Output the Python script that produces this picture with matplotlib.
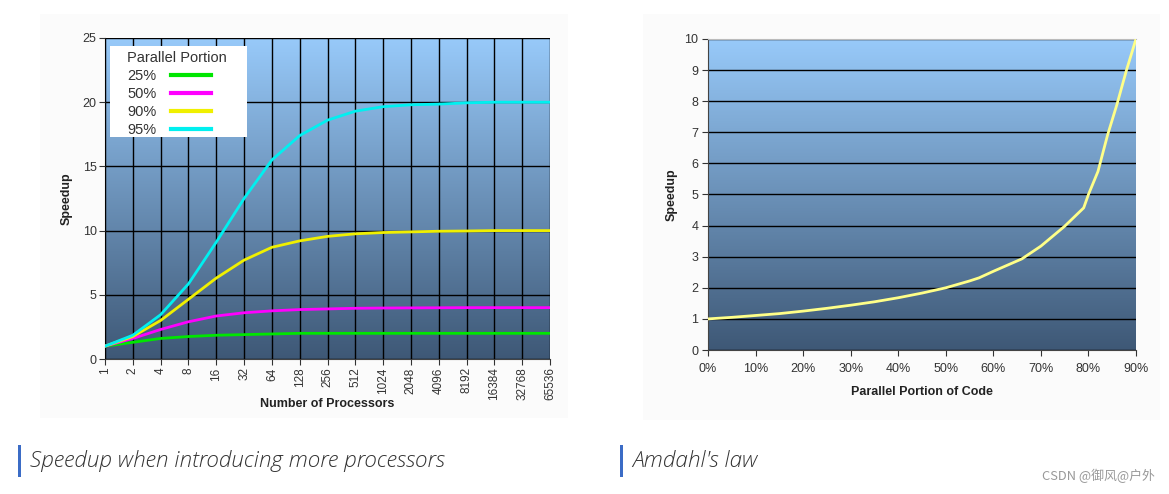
import numpy as np
import matplotlib.pyplot as plt
from matplotlib.patches import Rectangle

# left chart: speedup vs number of processors
processors = ["1", "2", "4", "8", "16", "32", "64", "128", "256", "512", "1024",
              "2048", "4096", "8192", "16384", "32768", "65536"]
sp_25 = [1.0, 1.3, 1.6, 1.75, 1.85, 1.9, 1.95, 2.0, 2.0, 2.0, 2.0, 2.0, 2.0, 2.0, 2.0, 2.0, 2.0]
sp_50 = [1.0, 1.6, 2.3, 2.9, 3.35, 3.6, 3.75, 3.85, 3.9, 3.95, 3.97, 3.98, 3.99, 4.0, 4.0, 4.0, 4.0]
sp_90 = [1.0, 1.75, 3.0, 4.65, 6.3, 7.7, 8.7, 9.2, 9.55, 9.75, 9.85, 9.9, 9.95, 9.97, 10.0, 10.0, 10.0]
sp_95 = [1.0, 1.85, 3.45, 5.85, 9.1, 12.5, 15.5, 17.4, 18.6, 19.3, 19.65, 19.8, 19.85, 19.95, 20.0, 20.0, 20.0]
series_labels = ["25%", "50%", "90%", "95%"]
series_colors = ["#00e600", "#ff00ff", "#f0f000", "#00f0f0"]

# right chart: Amdahl's law
portion = [0, 5, 10, 15, 20, 25, 30, 35, 40, 45, 50, 55, 57, 60, 66, 70, 75, 79, 80, 82, 84, 86, 88, 90]
amdahl = [1.0, 1.05, 1.11, 1.17, 1.25, 1.34, 1.44, 1.55, 1.68, 1.83, 2.0, 2.22, 2.32, 2.53,
          2.93, 3.34, 3.98, 4.57, 5.0, 5.74, 6.9, 7.9, 9.0, 10.0]

W, H = 1169, 494
fig = plt.figure(figsize=(W / 100, H / 100), dpi=100)
fig.patch.set_facecolor("white")

tick_font = dict(family="Liberation Sans", color="#333333")


def fx(px):
    return px / W


def fy(py):
    return 1 - py / H


# faint panels behind the two pictures
for x0, y0, x1, y1 in [(40, 14, 568, 418), (643, 14, 1160, 420)]:
    fig.patches.append(Rectangle((fx(x0), fy(y1)), fx(x1) - fx(x0), fy(y0) - fy(y1),
                                 transform=fig.transFigure, facecolor="#fbfbfb",
                                 edgecolor="none", zorder=-5))

# blue gradient for the plot areas
top = np.array([152, 202, 250]) / 255
bot = np.array([62, 88, 118]) / 255
t = np.linspace(0, 1, 256)[:, None]
grad = (top * (1 - t) + bot * t)[:, None, :].repeat(2, axis=1)


def background(ax):
    ax.imshow(grad, extent=[0, 1, 0, 1], transform=ax.transAxes, aspect="auto", zorder=0)


# ---- left chart
ax1 = fig.add_axes([fx(105), fy(359), fx(550) - fx(105), fy(38) - fy(359)])
background(ax1)
xi = np.arange(len(processors))
for vals, lab, col in zip([sp_25, sp_50, sp_90, sp_95], series_labels, series_colors):
    ax1.plot(xi, vals, color=col, lw=2, label=lab, zorder=3)
ax1.set_xlim(0, len(processors) - 1)
ax1.set_ylim(0, 25)
ax1.set_xticks(xi)
ax1.set_xticklabels(processors, rotation=90, fontsize=8.5, **tick_font)
ax1.set_yticks([0, 5, 10, 15, 20, 25])
ax1.set_yticklabels(["0", "5", "10", "15", "20", "25"], fontsize=9, **tick_font)
ax1.grid(True, color="black", lw=1, zorder=1)
ax1.set_axisbelow(False)
for line in ax1.get_xgridlines() + ax1.get_ygridlines():
    line.set_zorder(1)
ax1.set_xlabel("Number of Processors", fontsize=9, fontweight="bold",
               family="Liberation Sans", color="#222222", labelpad=-2)
ax1.set_ylabel("Speedup", fontsize=9, fontweight="bold", family="Liberation Sans",
               color="#222222", labelpad=7)
ax1.tick_params(length=4, color="#333333", pad=2)
for s in ["top", "right"]:
    ax1.spines[s].set_visible(False)
for s in ["left", "bottom"]:
    ax1.spines[s].set_color("#444444")

# legend box (white, no border) with the legend placed on it
ax1.add_patch(Rectangle((fx(110), fy(137)), fx(247) - fx(110), fy(46) - fy(137),
                        transform=fig.transFigure, facecolor="white", edgecolor="none",
                        zorder=4, clip_on=False))
leg = ax1.legend(title="Parallel Portion", loc="upper left",
                 bbox_to_anchor=(fx(127), fy(51)), bbox_transform=fig.transFigure,
                 markerfirst=False, frameon=False, borderpad=0, borderaxespad=0,
                 prop=dict(family="Liberation Sans", size=10.5),
                 handlelength=2.75, handletextpad=1.0, labelspacing=0.27,
                 alignment="left")
leg.get_title().set_fontsize(10.5)
leg.get_title().set_family("Liberation Sans")
leg.get_title().set_color("#333333")
for txt in leg.get_texts():
    txt.set_color("#333333")
for ln in leg.get_lines():
    ln.set_linewidth(3)
leg.set_zorder(5)

# ---- right chart
ax2 = fig.add_axes([fx(708), fy(350), fx(1136) - fx(708), fy(39) - fy(350)])
background(ax2)
ax2.plot(portion, amdahl, color="#ffff88", lw=2, zorder=3)
ax2.set_xlim(0, 90)
ax2.set_ylim(0, 10)
ax2.set_xticks(range(0, 91, 10))
ax2.set_xticklabels([f"{v}%" for v in range(0, 91, 10)], fontsize=9, **tick_font)
ax2.set_yticks(range(0, 11))
ax2.set_yticklabels([str(v) for v in range(0, 11)], fontsize=9, **tick_font)
ax2.yaxis.grid(True, color="black", lw=1, zorder=1)
ax2.set_xlabel("Parallel Portion of Code", fontsize=9, fontweight="bold",
               family="Liberation Sans", color="#222222", labelpad=8)
ax2.set_ylabel("Speedup", fontsize=9, fontweight="bold", family="Liberation Sans",
               color="#222222", labelpad=5)
ax2.tick_params(length=4, color="#333333", pad=5)
ax2.tick_params(axis="y", pad=3)
ax2.spines["top"].set_color("#bbbbbb")
ax2.spines["right"].set_visible(False)
for s in ["left", "bottom"]:
    ax2.spines[s].set_color("#444444")

# ---- captions
for bx, tx, text in [(18, 30, "Speedup when introducing more processors"), (620, 632, "Amdahl's law")]:
    fig.patches.append(Rectangle((fx(bx), fy(477)), fx(3), fy(445) - fy(477),
                                 transform=fig.transFigure, facecolor="#3b6cc6", edgecolor="none"))
    fig.text(fx(tx), fy(461), text, fontsize=16.2, style="italic", family="Open Sans",
             fontweight="light", color="#333333", va="center", ha="left")

fig.text(fx(1155), fy(476), "CSDN @御风@户外", fontsize=9.3, color="#999999",
         family=["Noto Sans CJK SC", "DejaVu Sans"], ha="right", va="center")

fig.savefig("out.png", dpi=100)
